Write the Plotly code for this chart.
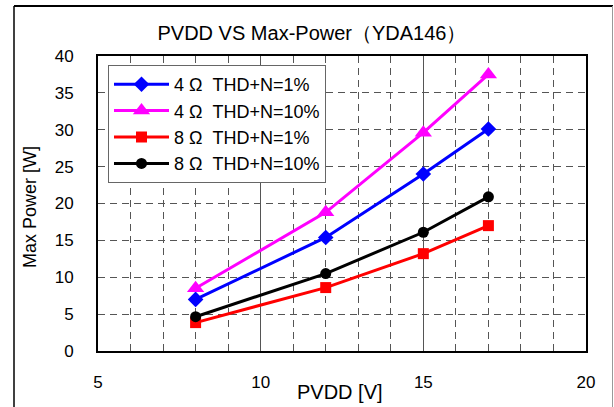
import plotly.graph_objects as go

pvdd = [8, 12, 15, 17]
p4_1 = [7.0, 15.4, 24.0, 30.1]
p4_10 = [8.5, 18.8, 29.6, 37.5]
p8_1 = [3.85, 8.6, 13.2, 17.0]
p8_10 = [4.65, 10.5, 16.1, 20.9]

names = ["4\u00a0Ω\u00a0\u00a0THD+N=1%", "4\u00a0Ω\u00a0\u00a0THD+N=10%",
         "8\u00a0Ω\u00a0\u00a0THD+N=1%", "8\u00a0Ω\u00a0\u00a0THD+N=10%"]
series = [p4_1, p4_10, p8_1, p8_10]
colors = ["#0000FF", "#FF00FF", "#FF0000", "#000000"]
symbols = ["diamond", "triangle-up", "square", "circle"]
sizes = [12, 15, 11, 11]

FONT = "Liberation Sans"
fig = go.Figure()
for i, (n, s) in enumerate(zip(names, series)):
    fig.add_trace(go.Scatter(
        x=pvdd, y=s, name=n, mode="lines+markers", legendgroup=str(i),
        line=dict(color=colors[i], width=3),
        marker=dict(symbol=symbols[i], size=sizes[i], color=colors[i]),
    ))

W, H = 614, 407
L, R, T, B = 98, 586, 56, 351  # plot area in pixel coords
pw, ph = R - L, B - T

def px(x):
    return (x - L) / pw

def py(y):
    return (B - y) / ph

fig.update_layout(
    width=W, height=H,
    margin=dict(l=L, r=W - R, t=T, b=H - B, autoexpand=False),
    paper_bgcolor="white", plot_bgcolor="white",
    font=dict(family=FONT, size=16, color="black"),
    showlegend=True,
    legend=dict(x=px(108), y=py(65), xanchor="left", yanchor="top",
                bgcolor="white", bordercolor="#666666", borderwidth=1,
                font=dict(size=18, family=FONT), tracegroupgap=0,
                itemwidth=55),
    title=dict(text="PVDD VS Max-Power（YDA146）", x=px(312), xref="paper",
               xanchor="center", y=1 - 33 / H, yanchor="middle",
               automargin=False, font=dict(size=20, family=FONT)),
    xaxis=dict(range=[5, 20], dtick=5, tick0=5, showgrid=True,
               gridcolor="#555555", gridwidth=1, automargin=False,
               minor=dict(dtick=1, showgrid=True, gridcolor="#555555",
                          griddash="7px,5px", gridwidth=1),
               showline=True, mirror=True, linecolor="black", linewidth=2,
               ticks="", ticklabelstandoff=15, zeroline=False,
               tickfont=dict(size=17, family=FONT)),
    yaxis=dict(range=[0, 40], dtick=5, showgrid=True, gridcolor="#555555",
               griddash="7px,5px", gridwidth=1, automargin=False,
               showline=True, mirror=True, linecolor="black", linewidth=2,
               ticks="", ticklabelstandoff=19, zeroline=False,
               tickfont=dict(size=17, family=FONT)),
    annotations=[
        dict(text="PVDD [V]", xref="paper", yref="paper", x=px(340), y=py(392),
             xanchor="center", yanchor="middle", showarrow=False,
             font=dict(size=20, family=FONT)),
        dict(text="Max Power [W]", xref="paper", yref="paper", x=px(30), y=py(207),
             xanchor="center", yanchor="middle", showarrow=False, textangle=-90,
             font=dict(size=18, family=FONT)),
    ],
    shapes=[
        dict(type="line", xref="paper", yref="paper",
             x0=px(14), x1=px(613), y0=py(6), y1=py(6),
             line=dict(color="black", width=2), layer="above"),
        dict(type="line", xref="paper", yref="paper",
             x0=px(14), x1=px(14), y0=py(6), y1=py(410),
             line=dict(color="black", width=1.5), layer="above"),
        dict(type="line", xref="paper", yref="paper",
             x0=px(612.5), x1=px(612.5), y0=py(6), y1=py(410),
             line=dict(color="#999999", width=1), layer="above"),
    ],
)

fig.write_html("out.html", config={"displayModeBar": False},
               post_script="document.body.style.margin='0px';")
